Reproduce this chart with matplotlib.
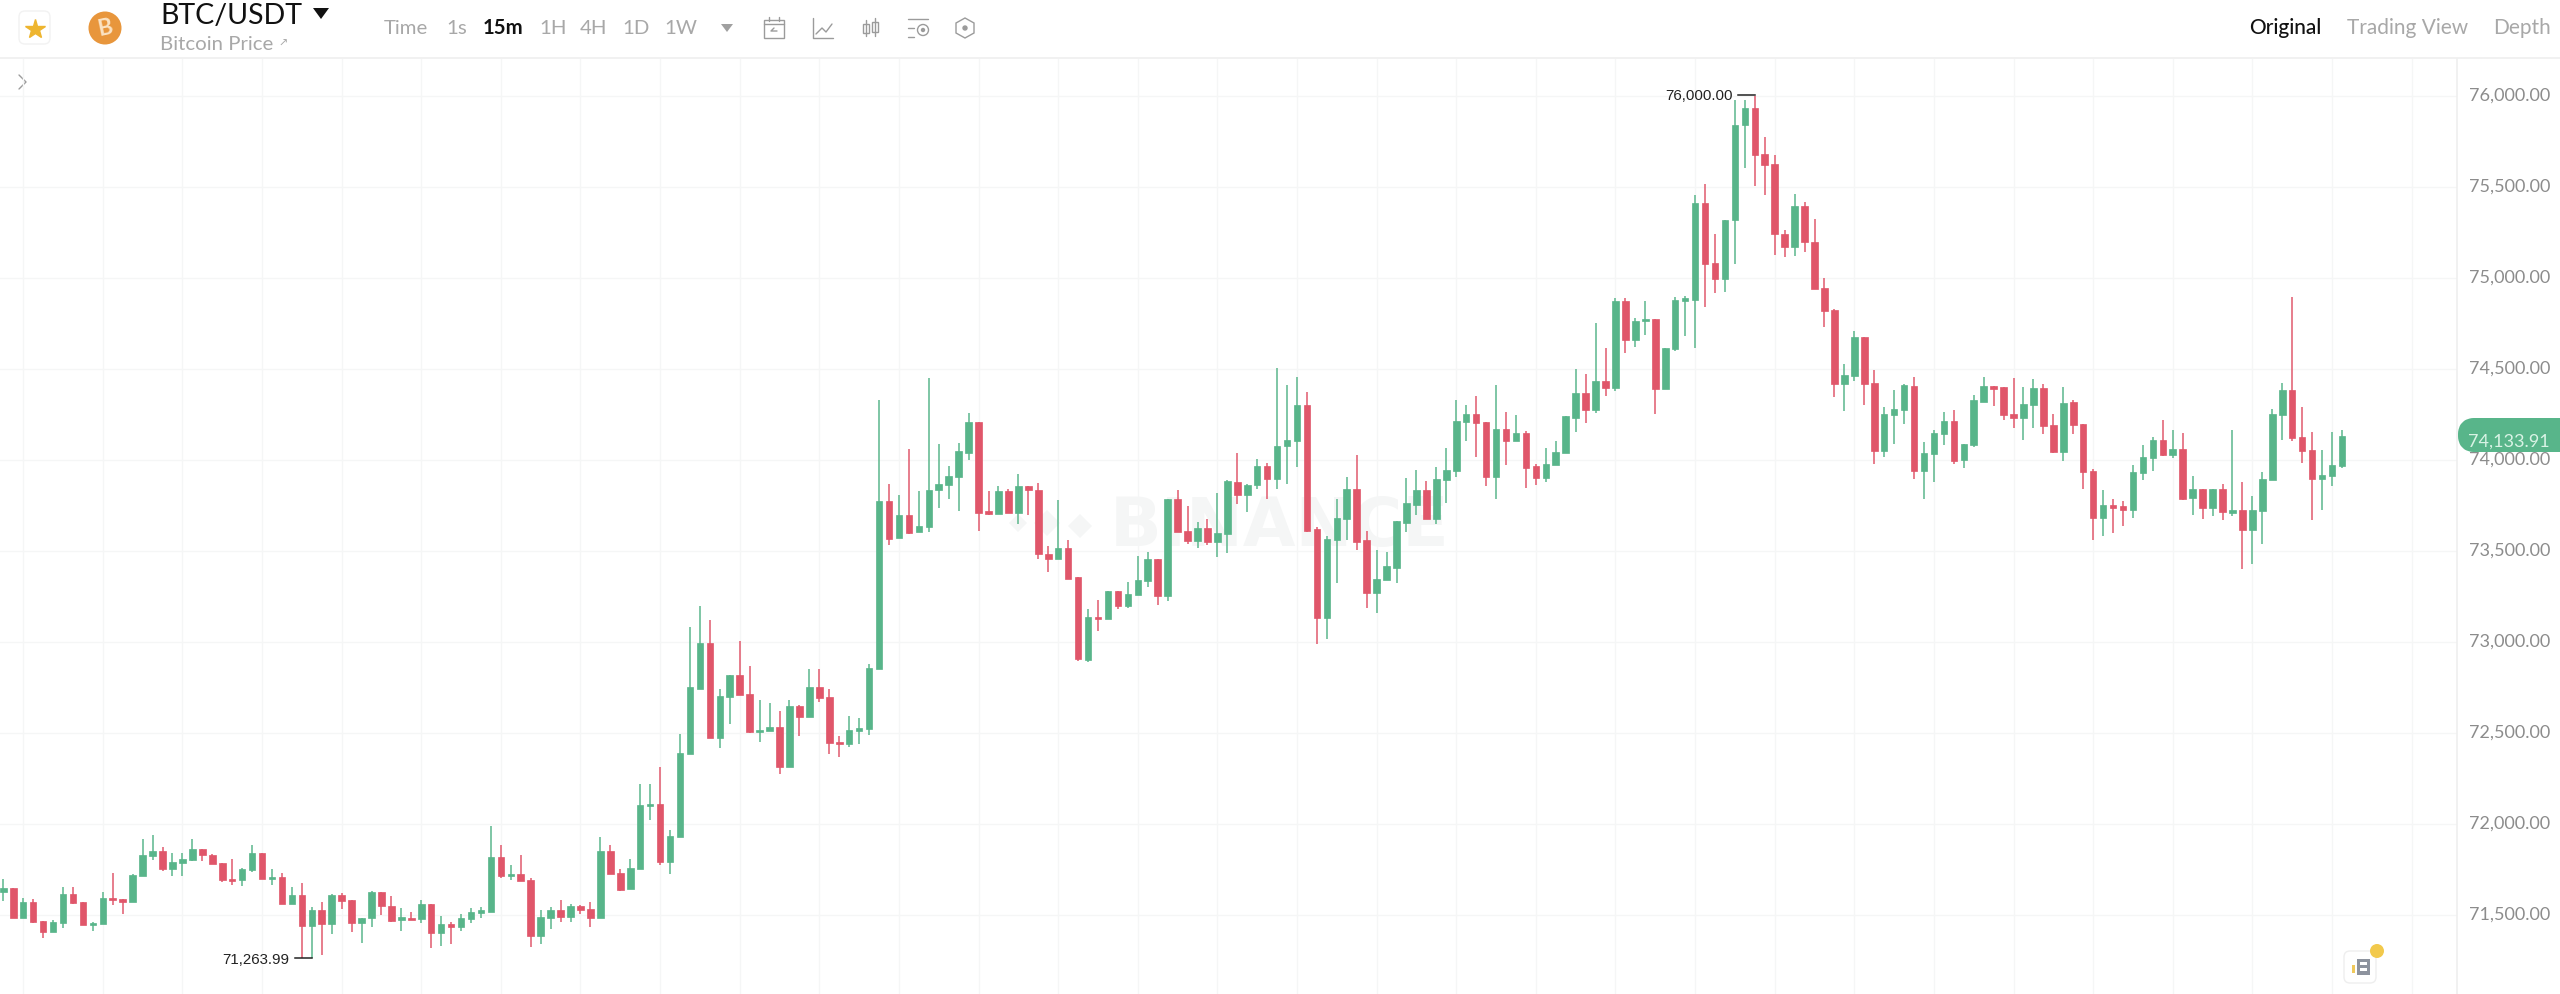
import matplotlib
matplotlib.use("Agg")
import matplotlib.pyplot as plt
from matplotlib.lines import Line2D
from matplotlib.patches import Circle, FancyBboxPatch, Polygon, Rectangle
from matplotlib.transforms import Affine2D

opens = [
71627,71646,71486,71569,71468,71408,71454,71613,71569,71444,
71450,71596,71587,71571,71713,71823,71849,71755,71786,71801,
71863,71832,71785,71700,71691,71750,71841,71699,71710,71563,
71611,71439,71529,71448,71609,71580,71455,71483,71624,71549,
71472,71486,71479,71561,71402,71450,71433,71479,71510,71518,
71821,71713,71726,71695,71386,71485,71525,71488,71552,71532,
71481,71849,71732,71642,71755,72097,72110,71792,71927,72387,
72744,72994,72475,72698,72817,72716,72504,72513,72533,72314,
72647,72588,72753,72696,72453,72438,72511,72524,72853,73772,
73571,73699,73602,73631,73833,73862,73908,74041,74211,73719,
73705,73831,73708,73856,73836,73485,73454,73516,73357,72900,
73138,73129,73280,73196,73258,73335,73456,73251,73783,73608,
73553,73628,73551,73593,73880,73805,73863,73969,73898,74075,
74106,74300,73620,73131,73561,73675,73843,73558,73270,73338,
73409,73653,73755,73837,73678,73889,73940,74211,74251,74207,
73909,74168,74106,74148,73965,73901,73973,74037,74232,74370,
74276,74436,74397,74875,74659,74763,74776,74390,74608,74873,
74880,75411,75082,74992,75316,75839,75936,75680,75625,75244,
75169,75396,75199,74944,74824,74419,74460,74675,74421,74049,
74248,74277,74407,73941,74034,74144,74215,74001,74080,74321,
74405,74402,74250,74228,74303,74396,74191,74043,74316,74197,
73939,73683,73750,73745,73725,73926,74010,74111,74027,74060,
73791,73838,73738,73838,73710,73723,73613,73719,73891,74246,
74383,74124,74056,73897,73910,73968]
highs = [
71700,71651,71591,71589,71468,71472,71655,71655,71569,71461,
71624,71733,71589,71724,71918,71938,71874,71838,71841,71916,
71865,71834,71785,71810,71761,71887,71841,71755,71730,71655,
71677,71543,71574,71618,71620,71580,71486,71631,71624,71602,
71541,71516,71583,71561,71497,71463,71508,71541,71543,71988,
71885,71775,71827,71704,71527,71543,71580,71558,71556,71572,
71927,71885,71752,71808,72218,72218,72314,71966,72497,73082,
73199,73119,72744,72819,73007,72868,72683,72665,72619,72683,
72656,72850,72850,72744,72484,72592,72584,72877,74327,73869,
73805,74060,73827,74451,74089,73968,74092,74257,74211,73829,
73855,73842,73924,73856,73873,73527,73778,73558,73357,73183,
73229,73280,73280,73330,73471,73494,73456,73783,73836,73747,
73657,73675,73818,73891,74041,73867,74006,73982,74505,74410,
74457,74371,73634,73581,73786,73905,74026,73609,73503,73494,
73662,73901,73947,73887,73964,74064,74331,74304,74353,74207,
74414,74264,74245,74158,73978,74066,74106,74240,74501,74472,
74750,74615,74890,74890,74778,74875,74776,74613,74893,74902,
75457,75515,75241,75319,75976,75978,76000,75775,75676,75266,
75464,75418,75323,74999,74831,74527,74710,74675,74496,74290,
74387,74415,74458,74100,74162,74266,74274,74087,74356,74455,
74405,74402,74451,74400,74445,74418,74253,74403,74327,74197,
73952,73835,73783,73774,73970,74080,74125,74222,74167,74149,
73911,73838,73838,73869,74166,73880,73802,73932,74279,74422,
74894,74290,74153,74056,74151,74162]
lows = [
71578,71483,71483,71454,71375,71406,71430,71563,71443,71413,
71448,71556,71503,71569,71713,71801,71743,71713,71713,71799,
71794,71779,71680,71664,71662,71737,71699,71664,71561,71561,
71264,71264,71280,71393,71532,71406,71344,71432,71499,71461,
71410,71475,71454,71320,71331,71342,71410,71457,71486,71518,
71706,71691,71688,71322,71340,71422,71459,71463,71505,71433,
71481,71726,71631,71642,71755,72021,71772,71728,71927,72387,
72744,72475,72420,72548,72711,72502,72453,72513,72272,72314,
72484,72588,72669,72383,72369,72424,72438,72491,72853,73535,
73571,73591,73602,73604,73734,73785,73721,74001,73610,73696,
73705,73710,73650,73699,73454,73385,73454,73348,72894,72891,
73059,73129,73183,73187,73258,73302,73202,73225,73602,73536,
73516,73531,73467,73489,73760,73713,73841,73786,73839,73869,
73964,73607,72991,73014,73325,73563,73506,73188,73161,73338,
73323,73603,73695,73678,73649,73766,73909,74106,74015,73859,
73783,73971,74106,73848,73865,73880,73973,74037,74152,74203,
74256,74353,74381,74586,74622,74686,74253,74390,74600,74679,
74615,74838,74915,74924,75076,75606,75506,75456,75127,75116,
75118,75140,74939,74732,74348,74271,74432,74301,73979,74016,
74089,74195,73897,73787,73878,74080,73979,73955,74071,74321,
74299,74220,74175,74111,74175,74140,74038,73997,74144,73842,
73560,73582,73599,73639,73683,73891,73939,74023,74012,73782,
73699,73674,73690,73668,73694,73401,73427,73536,73891,74111,
74102,73986,73672,73723,73857,73957]
closes = [
71646,71486,71571,71459,71408,71459,71613,71565,71444,71455,
71596,71585,71571,71719,71828,71849,71753,71792,71810,71863,
71827,71779,71695,71689,71755,71841,71699,71710,71563,71611,
71439,71529,71448,71609,71578,71455,71483,71624,71547,71468,
71488,71475,71561,71402,71450,71433,71483,71518,71525,71821,
71713,71728,71688,71386,71490,71529,71488,71552,71529,71481,
71849,71726,71636,71761,72106,72112,71792,71933,72392,72753,
72994,72475,72702,72819,72711,72506,72517,72533,72314,72648,
72588,72753,72692,72447,72442,72515,72530,72857,73772,73567,
73699,73599,73635,73836,73869,73911,74048,74211,73710,73701,
73831,73710,73856,73833,73482,73454,73516,73348,72904,73138,
73125,73280,73196,73262,73339,73456,73251,73783,73602,73553,
73628,73549,73599,73882,73805,73865,73969,73898,74079,74110,
74300,73612,73133,73567,73680,73843,73552,73270,73344,73415,
73662,73762,73837,73678,73894,73945,74216,74251,74203,73909,
74168,74106,74148,73958,73900,73978,74042,74240,74370,74276,
74436,74397,74875,74659,74765,74774,74390,74613,74879,74888,
75411,75078,74992,75319,75841,75936,75676,75621,75241,75169,
75396,75195,74939,74820,74419,74465,74675,74416,74049,74253,
74281,74411,73941,74039,74147,74215,73997,74087,74327,74405,
74392,74246,74228,74306,74396,74186,74043,74314,74193,73933,
73683,73750,73738,73725,73933,74016,74111,74027,74060,73787,
73838,73738,73838,73714,73723,73613,73723,73893,74250,74383,
74120,74052,73897,73915,73974,74134]
price_ticks = [71500,72000,72500,73000,73500,74000,74500,75000,75500,76000]
last_price = 74133.91
high_price = 76000.00
low_price = 71263.99
periods = ["Time", "1s", "15m", "1H", "4H", "1D", "1W"]

GREEN = "#58b58a"
RED = "#e0566a"
GRID = "#f5f6f6"

plt.rcParams["font.family"] = ["Lato", "DejaVu Sans"]
fig = plt.figure(figsize=(25.6, 9.94), dpi=100, facecolor="white")
W, H = 2560, 994
px = Affine2D().scale(1, -1).translate(0, H)

# plot area: pixels x 0..2457, y 59..994
ax = fig.add_axes([0, 0, 2457 / W, (H - 59) / H], zorder=2)
ax.set_facecolor("none")
ax.set_xlim(-0.33, 246.56)
ax.set_ylim(71066, 76203)
for s in ["top", "left", "bottom"]:
    ax.spines[s].set_visible(False)
ax.spines["right"].set_color("#eeeeee")
ax.spines["right"].set_linewidth(1.1)
ax.yaxis.tick_right()
ax.set_yticks(price_ticks)
ax.set_yticklabels(["" for _ in price_ticks])
ax.set_xticks(list(range(2, 243, 8)))
ax.set_xticklabels([])
ax.tick_params(length=0)
ax.grid(True, color=GRID, lw=1.0, zorder=0)
ax.set_axisbelow(True)

# watermark (below the axes)
fig.text(1280, 527, "BINANCE", transform=px, fontsize=49, fontweight="bold", color="#f5f6f6",
         ha="center", va="center", zorder=1, family=["DejaVu Sans"])
for cx, cy, r in [(1047, 523, 13), (1018, 523, 9), (1080, 526, 12)]:
    fig.add_artist(Polygon([(cx - r, cy), (cx, cy - r), (cx + r, cy), (cx, cy + r)], closed=True,
                           transform=px, facecolor="#f5f6f6", edgecolor="none", zorder=1))

# candles
xs = list(range(len(opens)))
colors = [GREEN if c >= o else RED for o, c in zip(opens, closes)]
ax.vlines(xs, lows, highs, colors=colors, lw=1.2, alpha=0.9, zorder=3)
ax.bar(xs, [max(abs(c - o), 4) for o, c in zip(opens, closes)],
       bottom=[min(o, c) for o, c in zip(opens, closes)], width=0.66, color=colors,
       edgecolor=colors, linewidth=0.5, zorder=4)

# extreme markers
ax.plot([174.3, 176.0], [high_price + 5] * 2, color="#222222", lw=1.1, zorder=5)
ax.text(173.8, high_price, f"{high_price:,.2f}", fontsize=10.8, family=["Liberation Sans"],
        color="#222222", ha="right", va="center", zorder=5)
ax.plot([29.3, 31], [low_price] * 2, color="#222222", lw=1.1, zorder=5)
ax.text(28.7, low_price - 10, f"{low_price:,.2f}", fontsize=10.8, family=["Liberation Sans"],
        color="#222222", ha="right", va="center", zorder=5)

# price labels
for p in price_ticks:
    ax.annotate(f"{p:,.2f}", xy=(1, p), xycoords=("axes fraction", "data"), xytext=(93, 0),
                textcoords=("offset pixels"), ha="right", va="center", fontsize=13, color="#8c8c8c",
                annotation_clip=False)
fig.add_artist(FancyBboxPatch((2466, 426), 110, 18, boxstyle="round,pad=0,rounding_size=8",
                              mutation_aspect=1, transform=px, facecolor=GREEN, edgecolor=GREEN, lw=16 * 0.72,
                              zorder=6, joinstyle="round"))
fig.text(2550, 442, f"{last_price:,.2f}", transform=px, ha="right", va="center", fontsize=13,
         color="#d9f3e5", zorder=7)

# header
fig.add_artist(Line2D([0, W], [58, 58], transform=px, color="#eeeeee", lw=1.1))
fig.add_artist(FancyBboxPatch((19, 11), 31, 33, boxstyle="round,pad=0,rounding_size=6", transform=px,
                              facecolor="white", edgecolor="#f2f2f2", lw=1))
fig.add_artist(Line2D([35], [29], transform=px, marker="*", ms=15, color="#eeb52f", mec="#eeb52f"))
fig.add_artist(Circle((105, 28), 16.5, transform=px, facecolor="#e8963c", edgecolor="none"))
fig.text(105, 28, "B", transform=px, ha="center", va="center", fontsize=16, fontweight="bold",
         color="#fbe3c4", rotation=12)
fig.text(160, 16, "BTC/USDT", transform=px, ha="left", va="center", fontsize=20.5, color="#111111")
fig.add_artist(Polygon([(313, 8), (329, 8), (321, 19)], closed=True, transform=px, facecolor="#111111"))
fig.text(160, 45, "Bitcoin Price", transform=px, ha="left", va="center", fontsize=14.7, color="#a8a8a8")
fig.text(278, 44, "↗", transform=px, ha="left", va="center", fontsize=8, color="#a8a8a8",
         family=["DejaVu Sans"])
period_x = [384, 446, 483, 539, 580, 622, 664]
for name, x in zip(periods, period_x):
    active = name == "15m"
    fig.text(x, 28, name, transform=px, ha="left", va="center", fontsize=14.7,
             color="#111111" if active else "#a8a8a8", fontweight="bold" if active else "normal")
fig.add_artist(Polygon([(721, 24), (733, 24), (727, 32)], closed=True, transform=px, facecolor="#a0a0a0"))

ic = "#9b9b9b"
def L(xv, yv, lw=1.0):
    fig.add_artist(Line2D(xv, yv, transform=px, color=ic, lw=lw, solid_capstyle="round"))
# calendar
fig.add_artist(Rectangle((764, 20), 20, 18, transform=px, fill=False, edgecolor=ic, lw=1))
L([764, 784], [24, 24]); L([769, 769], [17, 21]); L([779, 779], [17, 21]); L([777, 771, 774], [31, 31, 28])
# chart
L([813, 813, 833], [18, 38, 38]); L([816, 822, 826, 832], [34, 28, 32, 24])
# candles
L([866, 866], [20, 36]); fig.add_artist(Rectangle((863, 24), 6, 9, transform=px, fill=False, edgecolor=ic, lw=1))
L([875, 875], [18, 36]); fig.add_artist(Rectangle((872, 22), 6, 10, transform=px, fill=False, edgecolor=ic, lw=1))
# settings lines
L([908, 928], [19, 19]); L([908, 914], [28, 28]); L([908, 914], [37, 37])
fig.add_artist(Circle((923, 30), 5.5, transform=px, fill=False, edgecolor=ic, lw=1))
fig.add_artist(Circle((923, 30), 1.5, transform=px, facecolor=ic, edgecolor=ic))
# hexagon
fig.add_artist(Polygon([(965, 18), (974, 23), (974, 33), (965, 38), (956, 33), (956, 23)], closed=True,
                       transform=px, fill=False, edgecolor=ic, lw=1))
fig.add_artist(Circle((965, 28), 2, transform=px, facecolor=ic, edgecolor=ic))
# chevron
L([19, 26, 19], [75, 82, 89], lw=1.0)

fig.text(2249, 28, "Original", transform=px, ha="left", va="center", fontsize=15, color="#111111",
         fontweight="medium")
fig.text(2347, 28, "Trading View", transform=px, ha="left", va="center", fontsize=15, color="#a8a8a8")
fig.text(2493, 28, "Depth", transform=px, ha="left", va="center", fontsize=15, color="#a8a8a8")

# news icon
fig.add_artist(FancyBboxPatch((2344, 951), 32, 32, boxstyle="round,pad=0,rounding_size=6", transform=px,
                              facecolor="white", edgecolor="#eeeeee", lw=1, zorder=6))
fig.add_artist(Rectangle((2357, 959), 13, 16, transform=px, facecolor="#8d939e", edgecolor="none", zorder=7))
fig.add_artist(Rectangle((2360, 962), 7, 3, transform=px, facecolor="white", edgecolor="none", zorder=8))
fig.add_artist(Rectangle((2360, 968), 7, 3, transform=px, facecolor="white", edgecolor="none", zorder=8))
fig.add_artist(Rectangle((2352, 965), 3, 8, transform=px, facecolor="#f0c95a", edgecolor="none", zorder=7))
fig.add_artist(Circle((2377, 951), 7, transform=px, facecolor="#f2c94c", edgecolor="none", zorder=8))

fig.savefig("out.png", dpi=100, facecolor="white")
